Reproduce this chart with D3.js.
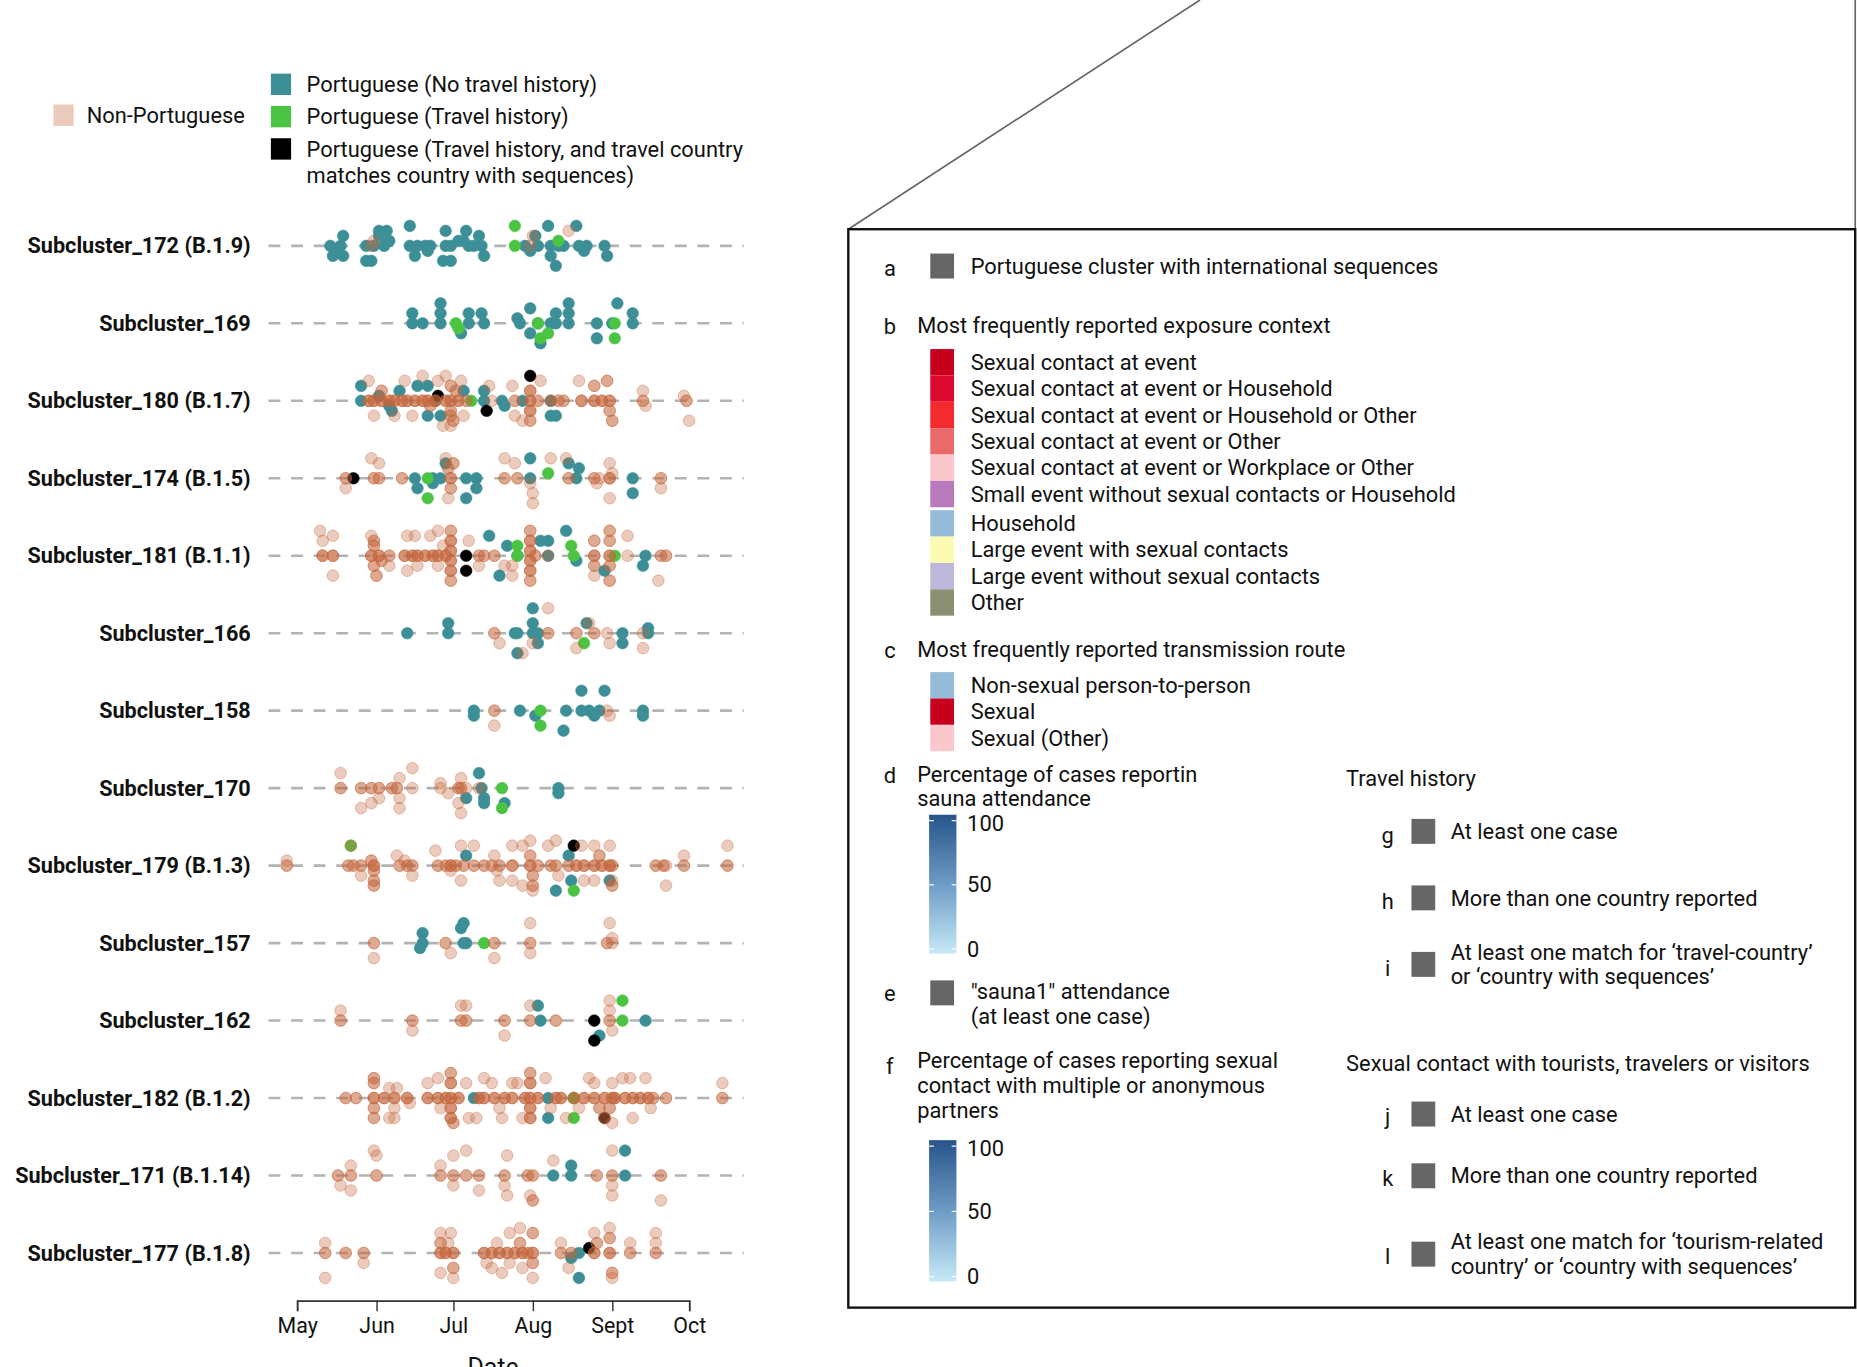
<!DOCTYPE html>
<html>
<head>
<meta charset="utf-8">
<script src="https://cdn.jsdelivr.net/npm/d3@7"></script>
<style>
  body { margin: 0; background: #fff; }
  text { font-family: Roboto, "Noto Sans", sans-serif; fill: #111; }
</style>
</head>
<body>
<div id="cluster-vis"></div>
<script>
// subclusters, top to bottom
const subclusters = ["Subcluster_172 (B.1.9)", "Subcluster_169", "Subcluster_180 (B.1.7)", "Subcluster_174 (B.1.5)",
  "Subcluster_181 (B.1.1)", "Subcluster_166", "Subcluster_158", "Subcluster_170", "Subcluster_179 (B.1.3)",
  "Subcluster_157", "Subcluster_162", "Subcluster_182 (B.1.2)", "Subcluster_171 (B.1.14)", "Subcluster_177 (B.1.8)"];

// case categories: N = non-Portuguese, P = Portuguese no travel, T = travel, M = travel country matches
const categories = ["N", "P", "T", "M"];
const categoryLabels = ["Non-Portuguese", "Portuguese (No travel history)", "Portuguese (Travel history)",
  "Portuguese (Travel history, and travel country|matches country with sequences)"];
const categoryColors = ["#c4673d", "#3c8f96", "#4cc443", "#000000"];

// x axis
const startDate = new Date(2022, 4, 1);
const monthTicks = [new Date(2022, 4, 1), new Date(2022, 5, 1), new Date(2022, 6, 1), new Date(2022, 7, 1), new Date(2022, 8, 1), new Date(2022, 9, 1)];
const monthLabels = ["May", "Jun", "Jul", "Aug", "Sept", "Oct"];

// cases: [days since 1 May, jitter level (-5..5), category, number of cases at that spot]
const sc172 = [[13,0,"P"],[14,2,"P"],[17,0,"P"],[18,2,"P"],[18,-2,"P"],[15,1,"P"],[27,0,"P"],[27,3,"P"],[29,3,"P"],[30,0,"P"],
  [32,-3,"P"],[35,-3,"P"],[32,-2,"P"],[34,0,"P"],[36,-1,"P"],[44,-4,"P"],[44,0,"P"],[47,0,"P"],[46,2,"P"],[50,0,"P"],[51,1,"P"],
  [52,0,"P"],[58,-3,"P"],[58,0,"P"],[57,3,"P"],[60,3,"P"],[60,0,"P"],[63,-1,"P"],[66,-3,"P"],[67,0,"P"],[69,0,"P"],[71,-2,"P"],
  [72,0,"P"],[73,2,"P"],[65,-1,"P"],[89,0,"P"],[91,1,"P"],[93,-2,"P"],[94,0,"P"],[98,-4,"P"],[99,0,"P"],[99,2,"P"],[101,4,"P"],
  [102,0,"P"],[104,0,"P"],[109,-4,"P"],[110,0,"P"],[112,1,"P"],[113,0,"P"],[120,0,"P"],[121,2,"P"],
  [85,-4,"T"],[85,0,"T"],[102,-1,"T"],[30,-1,"N"],[29,0,"N"],[92,-2,"N"],[106,-3,"N"],[91,0,"N"]];
const sc169 = [[45,-2,"P"],[45,0,"P"],[49,0,"P"],[56,-4,"P"],[56,-2,"P"],[56,0,"P"],[64,2,"P"],[67,-2,"P"],[67,0,"P"],[72,-2,"P"],
  [73,0,"P"],[86,-1,"P"],[87,0,"P"],[91,-3,"P"],[91,2,"P"],[94,0,"P"],[95,4,"P"],[99,0,"P"],[101,-2,"P"],[101,0,"P"],[106,-4,"P"],
  [106,-2,"P"],[106,0,"P"],[117,0,"P"],[117,3,"P"],[123,0,"P"],[125,-4,"P"],[131,-2,"P"],[131,0,"P"],
  [62,0,"T"],[63,1,"T"],[94,0,"T"],[95,3,"T"],[98,2,"T"],[124,3,"T"],[124,0,"T"]];
const sc180 = [[25,-3,"P"],[25,0,"P"],[32,-1,"P"],[36,1,"P"],[37,2,"P"],[40,-2,"P"],[47,-3,"P"],[51,-3,"P"],[51,3,"P"],[54,0,"P"],
  [56,3,"P"],[65,-2,"P"],[73,-2,"P"],[73,0,"P"],[80,0,"P"],[81,1,"P"],[88,0,"P"],[99,0,"P"],[99,3,"P"],[101,3,"P"],
  [55,-1,"M"],[74,2,"M"],[91,-5,"M"],[68,0,"T"],
  [28,0,"N",3],[30,0,"N",3],[33,0,"N",3],[36,0,"N",3],[38,0,"N",3],[41,0,"N",3],[43,0,"N",3],[46,0,"N",3],[49,0,"N",3],
  [51,0,"N",3],[54,0,"N",3],[58,0,"N",3],[60,0,"N",3],[63,0,"N",3],[66,0,"N",2],[28,-4,"N"],[30,3,"N"],[33,-2,"N",2],[38,3,"N"],
  [42,-4,"N"],[45,3,"N"],[49,-5,"N"],[52,1,"N",2],[55,-4,"N"],[58,-5,"N"],[60,3,"N",2],[62,-2,"N",2],[64,-4,"N"],[65,3,"N"],
  [60,5,"N"],[57,5,"N"],[60,-3,"N",2],[60,2,"N",2],[61,4,"N",2],[76,0,"N"],[75,-3,"N"],[84,-3,"N"],[85,0,"N",2],[85,3,"N"],
  [88,4,"N"],[91,-2,"N",3],[91,0,"N",3],[91,2,"N",3],[91,4,"N",2],[94,0,"N",2],[95,-4,"N"],[99,0,"N",2],[102,0,"N",2],
  [104,0,"N",2],[110,-4,"N"],[111,0,"N",3],[116,-3,"N",2],[116,0,"N",3],[119,0,"N",3],[121,-4,"N",2],[122,0,"N",3],[122,2,"N",2],
  [123,4,"N",2],[135,-2,"N"],[135,0,"N",2],[136,1,"N"],[151,-1,"N"],[152,0,"N",2],[153,4,"N"]];
const sc174 = [[46,0,"P"],[47,2,"P"],[53,0,"P"],[53,1,"P"],[58,-3,"P"],[56,0,"P"],[66,0,"P"],[66,4,"P"],[70,0,"P"],[70,2,"P"],
  [91,0,"P"],[91,-4,"P"],[106,-3,"P"],[110,-2,"P"],[109,0,"P"],[131,0,"P"],[131,3,"P"],[51,0,"T"],[51,4,"T"],[98,-1,"T"],[22,0,"M"],
  [19,0,"N",2],[19,2,"N"],[29,-4,"N"],[32,-3,"N"],[30,0,"N",2],[32,0,"N",2],[41,0,"N",2],[58,-4,"N"],[59,-2,"N",2],[60,0,"N",3],
  [60,2,"N",2],[59,4,"N"],[61,-3,"N",2],[81,-4,"N"],[81,0,"N",2],[86,0,"N",2],[85,-3,"N"],[91,1,"N"],[92,3,"N"],[92,5,"N"],
  [99,-4,"N"],[105,-4,"N"],[106,0,"N",2],[116,0,"N",2],[117,1,"N"],[118,0,"N"],[122,-3,"N"],[122,0,"N",3],[122,4,"N"],
  [123,-1,"N"],[142,0,"N",2],[142,2,"N"]];
const sc181 = [[75,-4,"P"],[79,4,"P"],[82,-2,"P"],[86,0,"P"],[95,-3,"P"],[98,-3,"P"],[105,-5,"P"],[109,1,"P"],[120,3,"P"],
  [136,0,"P"],[135,2,"P"],[98,0,"P"],[86,-2,"T"],[86,0,"T"],[107,-2,"T"],[108,0,"T"],[124,0,"T"],[66,0,"M"],[66,3,"M"],
  [9,-5,"N"],[10,-3,"N"],[10,0,"N",3],[14,-4,"N"],[14,0,"N",3],[14,4,"N"],[29,-4,"N"],[30,-3,"N",2],[29,0,"N",3],[30,-2,"N",2],
  [30,2,"N",2],[31,4,"N",2],[32,0,"N",3],[33,1,"N",2],[36,0,"N",2],[36,2,"N"],[43,-4,"N"],[46,-4,"N"],[42,0,"N",3],[45,0,"N",3],
  [47,0,"N",3],[50,0,"N",3],[53,0,"N",3],[55,0,"N",3],[58,0,"N",3],[43,3,"N"],[47,2,"N"],[52,-4,"N"],[55,-5,"N"],[55,2,"N"],
  [57,-2,"N"],[60,-5,"N",2],[60,-3,"N",3],[60,-1,"N",3],[60,1,"N",3],[60,3,"N",3],[60,5,"N",2],[67,-3,"N"],[71,0,"N",2],
  [71,2,"N"],[73,0,"N",2],[77,0,"N",2],[81,2,"N"],[84,2,"N"],[84,4,"N"],[91,-5,"N",2],[91,-3,"N",3],[91,-1,"N",3],[91,1,"N",3],
  [91,3,"N",3],[91,5,"N",2],[93,0,"N",2],[98,0,"N"],[116,-3,"N",2],[116,0,"N",3],[116,4,"N"],[116,2,"N",2],[122,-5,"N",2],
  [122,-3,"N",2],[122,0,"N",3],[122,2,"N",2],[122,5,"N",2],[129,-4,"N"],[129,0,"N"],[142,0,"N",2],[144,0,"N",2],[141,5,"N"]];
const sc166 = [[43,0,"P"],[59,-2,"P"],[59,0,"P"],[85,0,"P"],[86,0,"P"],[86,4,"P"],[92,-5,"P"],[92,-2,"P"],[92,0,"P"],[94,0,"P"],
  [94,2,"P"],[113,-2,"P"],[127,0,"P"],[127,2,"P"],[137,-1,"P"],[137,0,"P"],[112,2,"T"],
  [77,0,"N",2],[79,2,"N"],[88,4,"N"],[92,2,"N"],[98,-5,"N"],[98,0,"N",2],[109,0,"N",2],[109,3,"N"],[116,0,"N",2],[121,0,"N"],
  [122,2,"N"],[135,0,"N"],[135,3,"N"],[114,-2,"N"]];
const sc158 = [[69,0,"P"],[69,1,"P"],[87,0,"P"],[93,1,"P"],[105,0,"P"],[104,4,"P"],[111,-4,"P"],[111,0,"P"],[120,-4,"P"],
  [114,0,"P"],[116,1,"P"],[118,0,"P"],[135,0,"P"],[135,1,"P"],[95,0,"T"],[95,3,"T"],
  [77,0,"N",2],[77,3,"N"],[121,0,"N"],[122,1,"N"]];
const sc170 = [[71,-3,"P"],[72,0,"P"],[73,2,"P"],[73,3,"P"],[66,2,"P"],[81,3,"P"],[102,0,"P"],[102,1,"P"],[80,0,"T"],[80,4,"T"],
  [17,-3,"N"],[17,0,"N",2],[25,0,"N",2],[29,0,"N",2],[32,0,"N",2],[25,4,"N"],[29,3,"N"],[32,2,"N"],[37,0,"N",2],[39,0,"N",2],
  [40,-2,"N"],[40,2,"N"],[40,4,"N"],[45,-4,"N"],[45,0,"N"],[56,-1,"N"],[56,0,"N"],[59,1,"N"],[64,-2,"N"],[64,0,"N",2],[63,0,"N",2],
  [63,3,"N"],[64,5,"N"],[66,0,"N"],[71,0,"N"]];
const sc179 = [[66,-2,"P"],[106,-2,"P"],[107,3,"P"],[101,5,"P"],[122,3,"P"],[108,5,"T"],[21,-4,"T"],[108,-4,"M"],
  [-4,-1,"N"],[-4,0,"N",2],[20,0,"N",2],[22,0,"N",2],[25,0,"N",2],[25,2,"N"],[29,-1,"N",2],[30,0,"N",3],[30,1,"N",2],[30,3,"N",2],
  [30,4,"N",2],[39,-2,"N"],[40,0,"N",2],[42,-1,"N"],[43,0,"N",2],[45,0,"N",2],[45,2,"N"],[54,-3,"N"],[55,0,"N",2],[58,0,"N",2],
  [60,0,"N",3],[60,1,"N"],[62,0,"N",2],[64,3,"N"],[64,-4,"N"],[65,0,"N",2],[69,-4,"N"],[69,0,"N",2],[73,0,"N",2],[76,0,"N",2],
  [77,-2,"N"],[78,1,"N"],[79,0,"N",2],[79,3,"N"],[84,0,"N",3],[84,-4,"N"],[84,3,"N"],[88,-4,"N"],[88,4,"N"],[91,-5,"N"],
  [91,-2,"N",2],[91,0,"N",3],[92,2,"N",2],[92,4,"N",2],[92,5,"N"],[94,0,"N",2],[98,-4,"N"],[99,0,"N",2],[101,-5,"N"],[102,2,"N"],
  [101,0,"N",2],[106,0,"N",2],[109,0,"N",3],[112,0,"N",3],[116,0,"N",3],[119,0,"N",3],[122,0,"N",3],[123,0,"N",2],[111,-4,"N"],
  [116,-4,"N"],[122,-4,"N"],[118,-2,"N",2],[112,3,"N"],[116,3,"N"],[123,4,"N",2],[123,3,"N"],[140,0,"N",2],[143,0,"N",2],
  [144,0,"N"],[144,4,"N"],[151,-2,"N"],[151,0,"N",2],[168,-4,"N"],[168,0,"N",2],[21,-4,"N"]];
const sc157 = [[48,1,"P"],[49,0,"P"],[49,-2,"P"],[64,-3,"P"],[65,-4,"P"],[65,0,"P"],[66,0,"P"],[73,0,"T"],
  [30,0,"N",2],[30,3,"N"],[58,0,"N",2],[60,2,"N"],[77,0,"N",2],[77,3,"N"],[91,-4,"N"],[91,0,"N",2],[91,2,"N"],[122,-4,"N"],
  [121,0,"N",2],[123,-1,"N"],[123,0,"N"]];
const sc162 = [[94,-3,"P"],[95,0,"P"],[118,3,"P"],[136,0,"P"],[116,0,"M"],[116,4,"M"],[127,-4,"T"],[127,0,"T"],
  [17,-2,"N"],[17,0,"N",2],[45,0,"N",2],[45,2,"N"],[64,-3,"N"],[66,-3,"N"],[64,0,"N",2],[66,0,"N",2],[81,0,"N",2],[81,3,"N"],
  [91,-3,"N"],[91,0,"N",2],[101,0,"N",2],[122,-4,"N"],[122,-2,"N"],[122,0,"N",2],[123,2,"N"]];
const sc182 = [[69,0,"P"],[98,4,"P"],[98,0,"P"],[108,4,"T"],[108,0,"T"],[120,4,"M"],
  [19,0,"N",2],[23,0,"N",2],[30,-4,"N",2],[30,-3,"N",2],[30,0,"N",3],[30,2,"N",2],[30,4,"N",2],[34,0,"N",3],[36,-2,"N"],
  [38,0,"N",3],[38,2,"N"],[39,-2,"N"],[36,4,"N"],[38,4,"N"],[43,0,"N",3],[44,1,"N"],[51,-3,"N"],[51,0,"N",3],[55,0,"N",3],
  [55,-4,"N"],[56,2,"N"],[58,0,"N",3],[60,-5,"N",2],[60,-3,"N",3],[60,0,"N",3],[60,2,"N",3],[60,4,"N",3],[61,5,"N",2],
  [63,0,"N",3],[66,-3,"N"],[67,4,"N"],[71,0,"N",3],[70,4,"N"],[73,-4,"N"],[73,0,"N",3],[76,-3,"N"],[77,0,"N",3],[79,2,"N"],
  [80,4,"N"],[81,0,"N",3],[84,-3,"N"],[84,0,"N",3],[86,-3,"N"],[88,4,"N"],[89,0,"N",3],[91,-5,"N",2],[91,-3,"N",3],[91,0,"N",3],
  [91,2,"N",3],[91,4,"N",3],[94,0,"N",3],[97,-4,"N"],[99,2,"N"],[101,0,"N",3],[103,0,"N",3],[105,4,"N"],[108,0,"N",3],[110,2,"N"],
  [112,0,"N",3],[114,-4,"N"],[116,-3,"N"],[116,0,"N",3],[118,2,"N",2],[120,0,"N",3],[120,4,"N",2],[122,2,"N",2],[123,-3,"N"],
  [123,0,"N",3],[124,0,"N",3],[123,5,"N"],[127,-4,"N"],[128,0,"N",3],[130,-4,"N"],[131,0,"N",3],[131,4,"N"],[134,0,"N",3],
  [136,-4,"N"],[137,0,"N",3],[138,2,"N"],[139,0,"N",2],[144,0,"N",2],[166,-3,"N"],[166,0,"N",2]];
const sc171 = [[100,0,"P"],[107,-2,"P"],[107,0,"P"],[128,0,"P"],[128,-5,"P"],
  [16,0,"N",2],[17,2,"N"],[21,0,"N",2],[21,-2,"N"],[21,3,"N"],[31,0,"N",2],[31,-4,"N"],[30,-5,"N"],[56,-2,"N"],[56,0,"N",2],
  [61,0,"N",2],[61,2,"N"],[61,-4,"N"],[66,0,"N",2],[66,-5,"N"],[71,0,"N",2],[71,3,"N"],[81,0,"N",2],[82,-4,"N"],[81,2,"N"],
  [82,4,"N"],[92,0,"N",2],[90,0,"N",2],[91,4,"N"],[92,5,"N",2],[100,-3,"N"],[117,0,"N",2],[123,0,"N",2],[123,2,"N"],[123,4,"N"],
  [123,-5,"N"],[142,0,"N",2],[142,5,"N"]];
const sc177 = [[107,1,"P"],[110,0,"P"],[110,5,"P"],[114,-1,"M"],
  [11,-2,"N"],[11,0,"N",2],[11,5,"N"],[19,0,"N",2],[26,0,"N",2],[26,2,"N"],[56,-4,"N"],[60,-4,"N"],[56,-2,"N",2],[59,-2,"N"],
  [56,0,"N",3],[58,0,"N",3],[61,0,"N",3],[56,4,"N"],[61,3,"N",2],[61,5,"N"],[73,0,"N",3],[76,0,"N",3],[79,0,"N",3],[82,0,"N",3],
  [85,0,"N",3],[88,0,"N",3],[92,0,"N",3],[78,-2,"N"],[83,-4,"N"],[87,-5,"N"],[92,-4,"N",2],[87,-2,"N",2],[92,2,"N",2],[92,5,"N"],
  [74,2,"N"],[76,3,"N"],[80,4,"N"],[83,2,"N"],[88,3,"N"],[90,0,"N",2],[103,-2,"N"],[103,0,"N",2],[106,3,"N"],[107,0,"N",2],
  [116,-4,"N"],[117,-2,"N",2],[116,0,"N",3],[122,-5,"N"],[122,-3,"N",2],[122,0,"N",3],[123,4,"N",2],[123,5,"N"],[130,-2,"N"],
  [130,0,"N",2],[140,-4,"N"],[140,-2,"N"],[140,0,"N",2]];
const rowPoints = [sc172, sc169, sc180, sc174, sc181, sc166, sc158, sc170, sc179, sc157, sc162, sc182, sc171, sc177];

// right hand legend
const clusterLabel = "Portuguese cluster with international sequences";
const exposureLabels = ["Sexual contact at event", "Sexual contact at event or Household", "Sexual contact at event or Household or Other",
  "Sexual contact at event or Other", "Sexual contact at event or Workplace or Other", "Small event without sexual contacts or Household",
  "Household", "Large event with sexual contacts", "Large event without sexual contacts", "Other"];
const exposureColors = ["#c6001d", "#dc0a2e", "#f42b2c", "#ea6a6b", "#fac8cc", "#b67abd", "#94bcd9", "#fcfbb1", "#bdb8db", "#8a9070"];
const routeLabels = ["Non-sexual person-to-person", "Sexual", "Sexual (Other)"];
const routeColors = ["#94bcd9", "#c6001d", "#fac8cc"];
const percentTicks = [0, 50, 100];
const travelLabels = [["g", "At least one case"], ["h", "More than one country reported"],
  ["i", "At least one match for \u2018travel-country\u2019|or \u2018country with sequences\u2019"]];
const touristLabels = [["j", "At least one case"], ["k", "More than one country reported"],
  ["l", "At least one match for \u2018tourism-related|country\u2019 or \u2018country with sequences\u2019"]];

/**
 * Constructor for the ClusterVis
 */
function ClusterVis(){
    let self = this;

    self.init();
};

/**
 * Creates the svg, scales and axis
 */
ClusterVis.prototype.init = function(){
    let self = this;
    self.width = 1563;
    self.height = 1151;

    self.svg = d3.select("#cluster-vis").append("svg")
        .attr("width", 1857)
        .attr("height", 1367)
        .attr("viewBox", "0 0 " + self.width + " " + self.height)
        .attr("preserveAspectRatio", "none");

    self.x = d3.scaleTime()
        .domain([monthTicks[0], monthTicks[monthTicks.length - 1]])
        .range([250, 580]);
    self.y = d3.scalePoint()
        .domain(subclusters)
        .range([207, 1055]);
    self.jitter = d3.scaleLinear().domain([-5, 5]).range([-21, 21]);
    self.color = d3.scaleOrdinal().domain(categories).range(categoryColors);

    let xAxis = d3.axisBottom(self.x)
        .tickValues(monthTicks)
        .tickFormat((d, i) => monthLabels[i])
        .tickSize(9)
        .tickPadding(6);
    let gx = self.svg.append("g")
        .attr("transform", "translate(0,1095)")
        .call(xAxis);
    gx.select(".domain").attr("stroke", "#333").attr("stroke-width", 1.4);
    gx.selectAll(".tick line").attr("stroke", "#333").attr("stroke-width", 1.2);
    gx.selectAll(".tick text").attr("font-size", 18).attr("font-family", "Roboto").attr("fill", "#111");

    self.svg.append("text")
        .attr("x", 415).attr("y", 1159)
        .attr("text-anchor", "middle")
        .attr("font-size", 21)
        .text("Date");

    self.wrangleData();
    self.update();
    self.drawLegends();
};

/**
 * Flattens the per-row case lists, one entry per case
 */
ClusterVis.prototype.wrangleData = function(){
    let self = this;
    self.points = [];
    rowPoints.forEach(function(rows, i){
        rows.forEach(function(p){
            d3.range(p[3] || 1).forEach(function(){
                self.points.push({
                    row: subclusters[i],
                    date: d3.timeDay.offset(startDate, p[0]),
                    jit: p[1],
                    cat: p[2]
                });
            });
        });
    });
    // non-Portuguese drawn last, semi transparent on top
    self.points.sort((a, b) => (a.cat === "N") - (b.cat === "N"));
};

/**
 * Draws rows, dashed guides and cases
 */
ClusterVis.prototype.update = function(){
    let self = this;

    let rows = self.svg.append("g").selectAll("g")
        .data(subclusters).join("g")
        .attr("transform", d => "translate(0," + self.y(d) + ")");
    rows.append("line")
        .attr("x1", 226).attr("x2", 626)
        .attr("stroke", "#b3b3b3").attr("stroke-width", 2.2)
        .attr("stroke-dasharray", "10,9");
    rows.append("text")
        .attr("x", 211).attr("dy", "0.35em")
        .attr("text-anchor", "end")
        .attr("font-weight", 700)
        .attr("font-size", 18.2)
        .text(d => d);

    self.svg.append("g").selectAll("circle")
        .data(self.points).join("circle")
        .attr("cx", d => self.x(d.date))
        .attr("cy", d => self.y(d.row) + self.jitter(d.jit))
        .attr("r", 4.9)
        .attr("fill", d => self.color(d.cat))
        .attr("fill-opacity", d => d.cat === "N" ? 0.34 : 1)
        .attr("stroke", d => self.color(d.cat))
        .attr("stroke-opacity", d => d.cat === "N" ? 0.4 : 0.6)
        .attr("stroke-width", 0.8);
};

/**
 * Legends: case categories on the left, cluster annotation key on the right
 */
ClusterVis.prototype.drawLegends = function(){
    let self = this;
    let svg = self.svg;

    // left legend
    let leg = svg.append("g");
    let lfs = 18.4;
    leg.append("rect").attr("x", 45).attr("y", 88).attr("width", 17).attr("height", 18)
        .attr("fill", self.color("N")).attr("fill-opacity", 0.35);
    leg.append("text").attr("x", 73).attr("y", 97).attr("dy", "0.35em").attr("font-size", lfs).text(categoryLabels[0]);
    categories.slice(1).forEach(function(c, i){
        let yy = 71 + i * 27.2;
        leg.append("rect").attr("x", 228).attr("y", yy - 9).attr("width", 17).attr("height", 18).attr("fill", self.color(c));
        categoryLabels[i + 1].split("|").forEach(function(t, j){
            leg.append("text").attr("x", 258).attr("y", yy + j * 22).attr("dy", "0.35em").attr("font-size", lfs).text(t);
        });
    });

    // right key box
    let key = svg.append("g");
    key.append("line").attr("x1", 714).attr("y1", 193).attr("x2", 1010).attr("y2", 0)
        .attr("stroke", "#666").attr("stroke-width", 1.4);
    key.append("line").attr("x1", 1561.5).attr("y1", 0).attr("x2", 1561.5).attr("y2", 193)
        .attr("stroke", "#666").attr("stroke-width", 1.4);
    key.append("rect").attr("x", 714).attr("y", 193).attr("width", 847.5).attr("height", 908)
        .attr("fill", "none").attr("stroke", "#111").attr("stroke-width", 2);

    let fs = 18.4;
    let letter = (x, y, t) => key.append("text").attr("x", x).attr("y", y).attr("dy", "0.35em")
        .attr("text-anchor", "middle").attr("font-size", fs).text(t);
    let label = (x, y, t) => key.append("text").attr("x", x).attr("y", y).attr("dy", "0.35em")
        .attr("font-size", fs).text(t);
    let swatch = (x, y, h, c) => key.append("rect").attr("x", x).attr("y", y - h / 2)
        .attr("width", 20).attr("height", h).attr("fill", c);

    // a
    letter(749, 226, "a");
    swatch(793, 224, 21, "#666").attr("x", 783);
    label(817, 224, clusterLabel);

    // b
    letter(749, 275, "b");
    label(772, 274, "Most frequently reported exposure context");
    exposureLabels.forEach(function(t, i){
        let yy = 305 + i * 22.2 + (i >= 6 ? 2.5 : 0);
        swatch(783, yy, 22.2, exposureColors[i]);
        label(817, yy, t);
    });

    // c
    letter(749, 548, "c");
    label(772, 547, "Most frequently reported transmission route");
    routeLabels.forEach(function(t, i){
        let yy = 577 + i * 22.2;
        swatch(783, yy, 22.2, routeColors[i]);
        label(817, yy, t);
    });

    // gradient bars
    let defs = svg.append("defs");
    let grad = defs.append("linearGradient").attr("id", "pctGrad")
        .attr("x1", 0).attr("y1", 1).attr("x2", 0).attr("y2", 0);
    grad.append("stop").attr("offset", "0%").attr("stop-color", "#c7e9f8");
    grad.append("stop").attr("offset", "50%").attr("stop-color", "#6e9cc6");
    grad.append("stop").attr("offset", "100%").attr("stop-color", "#27548a");

    let colorBar = function(top, bottom){
        let s = d3.scaleLinear().domain([0, 100]).range([bottom - 4, top + 5]);
        key.append("rect").attr("x", 782).attr("y", top).attr("width", 23).attr("height", bottom - top)
            .attr("fill", "url(#pctGrad)");
        percentTicks.forEach(function(v){
            key.append("line").attr("x1", 782).attr("x2", 786).attr("y1", s(v)).attr("y2", s(v))
                .attr("stroke", "#fff").attr("stroke-width", 1);
            key.append("line").attr("x1", 801).attr("x2", 805).attr("y1", s(v)).attr("y2", s(v))
                .attr("stroke", "#fff").attr("stroke-width", 1);
            label(814, s(v) + (v === 100 ? 2 : 0), v);
        });
    };

    // d
    letter(749, 653, "d");
    label(772, 652, "Percentage of cases reportin");
    label(772, 672, "sauna attendance");
    colorBar(686, 803);

    // e
    letter(749, 836, "e");
    swatch(783, 836, 21, "#666");
    label(817, 835, "\"sauna1\" attendance");
    label(817, 856, "(at least one case)");

    // f
    letter(749, 898, "f");
    label(772, 893, "Percentage of cases reporting sexual");
    label(772, 914, "contact with multiple or anonymous");
    label(772, 935, "partners");
    colorBar(960, 1079);

    // travel history g-i
    label(1133, 655, "Travel history");
    let travelY = [700, 756, 812];
    travelLabels.forEach(function(d, i){
        let yy = travelY[i];
        letter(1168, yy + 3, d[0]);
        swatch(1188, yy, 21, "#666");
        let lines = d[1].split("|");
        lines.forEach(function(t, j){
            label(1221, yy + (j - (lines.length - 1) / 2) * 21, t);
        });
    });

    // tourists j-l
    label(1133, 895, "Sexual contact with tourists, travelers or visitors");
    let touristY = [938, 990, 1056];
    touristLabels.forEach(function(d, i){
        let yy = touristY[i];
        letter(1168, yy + 2, d[0]);
        swatch(1188, yy, 21, "#666");
        let lines = d[1].split("|");
        lines.forEach(function(t, j){
            label(1221, yy + (j - (lines.length - 1) / 2) * 21, t);
        });
    });
};

new ClusterVis();
</script>
</body>
</html>
